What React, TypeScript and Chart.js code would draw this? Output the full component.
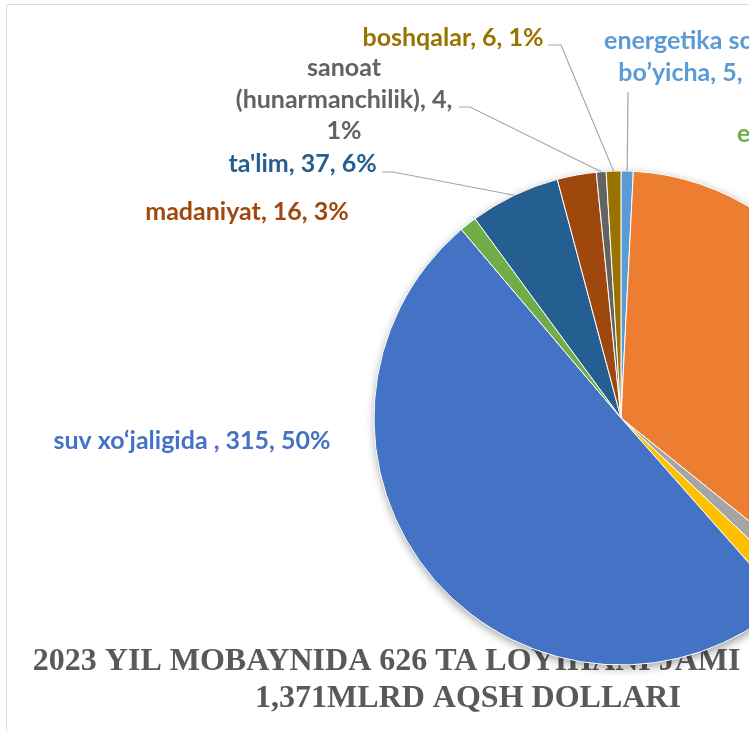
import React, { useEffect, useRef } from "react";
import { Chart, registerables } from "chart.js";

Chart.register(...registerables);

// ---- data ----
const categories = [
  "energetika sohasi bo’yicha",
  "sog‘liqni saqlash",
  "transport",
  "aloqa",
  "suv xo‘jaligida ",
  "ekologiya",
  "ta'lim",
  "madaniyat",
  "sanoat (hunarmanchilik)",
  "boshqalar",
];
const values = [5, 219, 8, 9, 315, 7, 37, 16, 4, 6];
const sliceColors = [
  "#5B9BD5",
  "#ED7D31",
  "#A5A5A5",
  "#FFC000",
  "#4472C4",
  "#70AD47",
  "#255E91",
  "#9E480E",
  "#636363",
  "#997300",
];
const titleLines = [
  "2023 YIL MOBAYNIDA 626 TA LOYIHANI JAMI SUMMASI",
  "1,371MLRD AQSH DOLLARI",
];

// ---- label layout (style only) ----
type LabelLayout = {
  index: number;
  x: number;
  y: number;
  align: CanvasTextAlign;
  maxWidth: number;
  lineHeight: number;
  leader?: number[][];
};
const labelLayouts: LabelLayout[] = [
  { index: 0, x: 701, y: 49, align: "center", maxWidth: 215, lineHeight: 32, leader: [[628, 92]] },
  { index: 9, x: 453, y: 46, align: "center", maxWidth: 400, lineHeight: 32, leader: [[548, 45], [561, 45]] },
  { index: 8, x: 344, y: 76, align: "center", maxWidth: 240, lineHeight: 31.5, leader: [[459, 107], [470, 107]] },
  { index: 6, x: 302.5, y: 172, align: "center", maxWidth: 400, lineHeight: 32, leader: [[382, 172], [393, 172]] },
  { index: 7, x: 247, y: 220, align: "center", maxWidth: 400, lineHeight: 32 },
  { index: 4, x: 192, y: 449, align: "center", maxWidth: 500, lineHeight: 32 },
  { index: 5, x: 737, y: 142, align: "left", maxWidth: 500, lineHeight: 32 },
];

const LABEL_FONT = "bold 25px Lato, 'Noto Sans', sans-serif";
const TITLE_FONT = "bold 32px 'Liberation Serif', 'DejaVu Serif', serif";

function wrap(ctx: CanvasRenderingContext2D, text: string, maxWidth: number): string[] {
  const words = text.split(" ");
  const lines: string[] = [];
  let cur = "";
  for (const w of words) {
    const test = cur === "" ? w : cur + " " + w;
    if (cur !== "" && ctx.measureText(test).width > maxWidth) {
      lines.push(cur);
      cur = w;
    } else {
      cur = test;
    }
  }
  if (cur !== "") lines.push(cur);
  return lines;
}

const decorPlugin = {
  id: "decor",
  beforeDraw(chart: any) {
    const ctx: CanvasRenderingContext2D = chart.ctx;
    ctx.save();
    ctx.fillStyle = "#ffffff";
    ctx.fillRect(0, 0, chart.width, chart.height);
    ctx.strokeStyle = "#D9D9D9";
    ctx.lineWidth = 1;
    ctx.beginPath();
    ctx.moveTo(6.5, chart.height);
    ctx.lineTo(6.5, 4.5);
    ctx.lineTo(chart.width, 4.5);
    ctx.stroke();
    ctx.restore();
  },
  beforeDatasetsDraw(chart: any) {
    const ctx: CanvasRenderingContext2D = chart.ctx;
    // title (behind the pie)
    ctx.save();
    ctx.font = TITLE_FONT;
    ctx.fillStyle = "#595959";
    ctx.textAlign = "center";
    ctx.textBaseline = "alphabetic";
    ctx.fillText(titleLines[0], 468, 670);
    ctx.fillText(titleLines[1], 468, 707);
    ctx.restore();
    // pie shadow
    const arc = chart.getDatasetMeta(0).data[0];
    if (!arc) return;
    const { x, y, outerRadius } = arc.getProps(["x", "y", "outerRadius"], true);
    ctx.save();
    ctx.shadowColor = "rgba(0,0,0,0.4)";
    ctx.shadowBlur = 10;
    ctx.shadowOffsetX = 1;
    ctx.shadowOffsetY = 3;
    ctx.fillStyle = "#ffffff";
    ctx.beginPath();
    ctx.arc(x, y, outerRadius, 0, Math.PI * 2);
    ctx.fill();
    ctx.restore();
  },
  afterDatasetsDraw(chart: any) {
    const ctx: CanvasRenderingContext2D = chart.ctx;
    const meta = chart.getDatasetMeta(0);
    const total = values.reduce((a, b) => a + b, 0);
    ctx.save();
    ctx.font = LABEL_FONT;
    ctx.textBaseline = "alphabetic";
    for (const lay of labelLayouts) {
      const i = lay.index;
      const el = meta.data[i];
      const pct = Math.round((values[i] / total) * 100);
      const text = `${categories[i]}, ${values[i]}, ${pct}%`;
      // leader line
      if (lay.leader && el) {
        const p = el.getProps(["x", "y", "startAngle", "endAngle", "outerRadius"], true);
        const mid = (p.startAngle + p.endAngle) / 2;
        const ex = p.x + Math.cos(mid) * p.outerRadius;
        const ey = p.y + Math.sin(mid) * p.outerRadius;
        ctx.strokeStyle = "#A6A6A6";
        ctx.lineWidth = 1.2;
        ctx.beginPath();
        lay.leader.forEach((pt, k) => (k === 0 ? ctx.moveTo(pt[0], pt[1]) : ctx.lineTo(pt[0], pt[1])));
        ctx.lineTo(ex, ey);
        ctx.stroke();
      }
      ctx.fillStyle = sliceColors[i];
      ctx.textAlign = lay.align;
      const lines = wrap(ctx, text, lay.maxWidth);
      lines.forEach((ln, k) => ctx.fillText(ln, lay.x, lay.y + k * lay.lineHeight));
    }
    ctx.restore();
  },
};

export default function App() {
  const ref = useRef<HTMLCanvasElement | null>(null);
  useEffect(() => {
    if (!ref.current) return;
    const chart = new Chart(ref.current, {
      type: "pie",
      data: {
        labels: categories,
        datasets: [
          {
            data: values,
            backgroundColor: sliceColors,
            borderColor: "#ffffff",
            borderWidth: 1,
            hoverOffset: 0,
          },
        ],
      },
      options: {
        responsive: false,
        animation: false,
        devicePixelRatio: 1,
        radius: 247,
        layout: { padding: { left: 374, top: 171, right: 132, bottom: 66 } },
        plugins: {
          legend: { display: false },
          tooltip: { enabled: false },
          title: { display: false },
        },
        events: [],
      } as any,
      plugins: [decorPlugin],
    });
    return () => chart.destroy();
  }, []);
  return (
    <div
      style={{
        position: "fixed",
        left: 0,
        top: 0,
        width: 749,
        height: 731,
        overflow: "hidden",
        background: "#ffffff",
      }}
    >
      <canvas ref={ref} width={1000} height={731} style={{ display: "block", width: 1000, height: 731 }} />
    </div>
  );
}
